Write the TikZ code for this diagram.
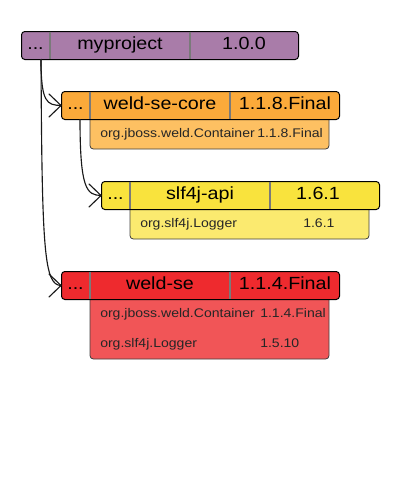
\documentclass[tikz,border=0pt]{standalone}
\usepackage{fontspec}
\setmainfont{Liberation Sans}
\newfontfamily\hdrfont[FakeStretch=1.12]{Liberation Sans}
\usetikzlibrary{arrows.meta}
\definecolor{purpleH}{HTML}{A97CA9}
\definecolor{orangeH}{HTML}{FBAA3A}
\definecolor{orangeS}{HTML}{FDC062}
\definecolor{yellowH}{HTML}{F9E33D}
\definecolor{yellowS}{HTML}{FBEA6F}
\definecolor{redH}{HTML}{EE2A2E}
\definecolor{redS}{HTML}{F15557}
\definecolor{divgray}{HTML}{7A7A7A}
\begin{document}
\begin{tikzpicture}[x=0.75pt,y=-0.75pt,
  hdr/.style={draw=black, line width=0.75pt, rounded corners=2.5pt, inner sep=0pt,
    minimum height=21pt, minimum width=208.5pt, anchor=north west},
  subbox/.style={draw=black!75, line width=0.6pt, rounded corners=2.5pt},
  divider/.style={draw=divgray, line width=1pt},
  htext/.style={font=\hdrfont\fontsize{13.2}{15}\selectfont, inner sep=0pt, anchor=base},
  stext/.style={font=\hdrfont\fontsize{9.4}{11}\selectfont, inner sep=0pt, anchor=base west, text=black!85},
  conn/.style={draw=black!90, line width=0.85pt},
  chev/.style={draw=black!90, line width=0.85pt, line cap=round, line join=miter}
]
\useasboundingbox[fill=white] (0,0) rectangle (400,500);

% sub boxes (behind headers)
\draw[subbox, fill=orangeS] (90,110) rectangle (329,149);
\draw[subbox, fill=yellowS] (130,200) rectangle (369,239);
\draw[subbox, fill=redS] (90,290) rectangle (329,359);

% headers
\node[hdr, fill=purpleH, minimum width=207.75pt] (proj) at (21,31) {};
\node[hdr, fill=orangeH] (core) at (61,91) {};
\node[hdr, fill=yellowH] (slf) at (101,181) {};
\node[hdr, fill=redH] (se) at (61,271) {};

% dividers
\draw[divider] (50,31.5) -- (50,58.5);
\draw[divider] (190,31.5) -- (190,58.5);
\draw[divider] (90,91.5) -- (90,118.5);
\draw[divider] (230,91.5) -- (230,118.5);
\draw[divider] (130,181.5) -- (130,208.5);
\draw[divider] (270,181.5) -- (270,208.5);
\draw[divider] (90,271.5) -- (90,298.5);
\draw[divider] (230,271.5) -- (230,298.5);

% header texts
\node[htext] (projdots) at (35.5,49) {...};
\node[htext] (projname) at (120,49) {myproject};
\node[htext] (projver) at (244,49) {1.0.0};

\node[htext] (coredots) at (75.5,109) {...};
\node[htext] (corename) at (160,109) {weld-se-core};
\node[htext] (corever) at (285,109) {1.1.8.Final};

\node[htext] (slfdots) at (115.5,199) {...};
\node[htext] (slfname) at (200,199) {slf4j-api};
\node[htext] (slfver) at (318,199) {1.6.1};

\node[htext] (sedots) at (75.5,289) {...};
\node[htext] (sename) at (160,289) {weld-se};
\node[htext] (sever) at (285,289) {1.1.4.Final};

% sub texts
\node[stext] (c1n) at (100,137.5) {org.jboss.weld.Container};
\node[stext] (c1v) at (257,137.5) {1.1.8.Final};
\node[stext] (s1n) at (140,227.5) {org.slf4j.Logger};
\node[stext] (s1v) at (303,227.5) {1.6.1};
\node[stext] (e1n) at (100,317.5) {org.jboss.weld.Container};
\node[stext] (e1v) at (260,317.5) {1.1.4.Final};
\node[stext] (e2n) at (100,347.5) {org.slf4j.Logger};
\node[stext] (e2v) at (260,347.5) {1.5.10};

% connectors
\coordinate (pstart) at (41,59);
\coordinate (cstart) at (80,119);
\draw[conn] (pstart) .. controls (41,103) and (47,105) .. (core.west);
\draw[conn] (pstart) .. controls (42,250) and (44,285) .. (se.west);
\draw[conn] (cstart) .. controls (80,190) and (87,195) .. (slf.west);
% arrowheads (open chevrons)
\draw[chev] ([shift={(-12,-11.5)}]core.west) -- (core.west) -- ([shift={(-12,11.5)}]core.west);
\draw[chev] ([shift={(-12,-11.5)}]slf.west) -- (slf.west) -- ([shift={(-12,11.5)}]slf.west);
\draw[chev] ([shift={(-12,-11.5)}]se.west) -- (se.west) -- ([shift={(-12,11.5)}]se.west);
\end{tikzpicture}
\end{document}
